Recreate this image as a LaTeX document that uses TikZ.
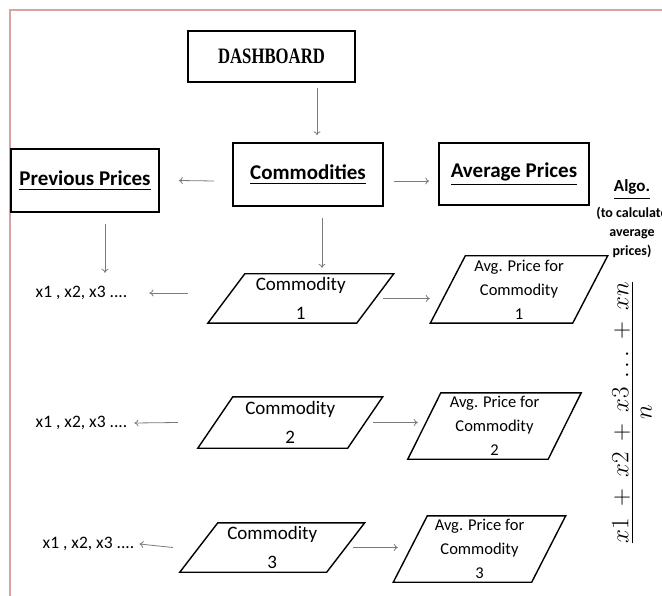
\documentclass[tikz,border=0pt]{standalone}
\usepackage{fontspec}
\setmainfont{Carlito}
\newfontfamily\dashfont{Liberation Serif}
\usetikzlibrary{arrows.meta,calc}
\definecolor{framec}{HTML}{D9A3A3}
\definecolor{arrc}{HTML}{7A7A7A}
\newcommand\myul[1]{\setbox0=\hbox{#1}\vtop{\copy0\kern3.5pt\hrule height 1.1pt width \wd0}}
\tikzset{
  box/.style={draw=black, line width=1.6pt, inner sep=0pt},
  ptext/.style={inner sep=0pt, align=center},
  pline/.style={draw=black, line width=1.4pt, line join=miter},
  arr/.style={draw=arrc, line width=0.8pt, -{To[length=4pt,width=7pt]}},
  plain/.style={inner sep=0pt},
  cfont/.style={font=\fontsize{19}{29}\selectfont},
  afont/.style={font=\fontsize{16.5}{24}\selectfont},
  hfont/.style={font=\bfseries\fontsize{21}{24}\selectfont},
  xfont/.style={font=\fontsize{17.5}{20}\selectfont},
}
\newcommand\paral[8]{%
  \node[ptext, #8, minimum width=#4pt, minimum height=#5pt] (#1) at (#2,#3) {#7};
  \draw[pline] ([xshift=#6pt]#1.north west) -- ([xshift=#6pt]#1.north east)
    -- ([xshift=-#6pt]#1.south east) -- ([xshift=-#6pt]#1.south west) -- cycle;}
\begin{document}
\begin{tikzpicture}[x=1pt,y=-1pt]
\useasboundingbox (0,0) rectangle (662,596);
\fill[white] (0,0) rectangle (662,596);
\draw[framec, line width=1.2pt] (662,10) -- (10,10) -- (10,596);

% top boxes
\node[box, minimum width=167pt, minimum height=51pt] (dash) at (271.5,56.5)
  {\raisebox{-3pt}{\scalebox{0.76}[1]{\dashfont\bfseries\fontsize{22}{24}\selectfont DASHBOARD}}};
\node[box, hfont, minimum width=150pt, minimum height=63pt] (comm) at (308,174.5) {\raisebox{-2pt}{\myul{Commodities}}};
\node[box, hfont, minimum width=148pt, minimum height=63pt] (prev) at (85,180.5) {\raisebox{-4pt}{\myul{Previous Prices}}};
\node[box, hfont, minimum width=150pt, minimum height=62pt] (avgp) at (514,174) {\raisebox{-4pt}{\myul{Average Prices}}};

% parallelograms
\paral{c1}{300.75}{298.5}{148.5}{49}{18.5}{Commodity\\1}{cfont}
\paral{c2}{290.25}{422.5}{149.5}{51}{17.5}{Commodity\\2}{cfont}
\paral{c3}{272.25}{547.5}{146.5}{49}{19}{Commodity\\3}{cfont}
\paral{a1}{519}{289.5}{142}{67}{17.5}{Avg. Price for\\Commodity\\1}{afont}
\paral{a2}{494.5}{426}{140}{66}{16.5}{Avg. Price for\\Commodity\\2}{afont}
\paral{a3}{479.5}{549}{138}{66}{17}{Avg. Price for\\Commodity\\3}{afont}

% x lists
\node[plain, xfont] (x1) at (81.5,293) {x1 , x2, x3 ....};
\node[plain, xfont] (x2) at (81.5,423) {x1 , x2, x3 ....};
\node[plain, xfont] (x3) at (88.5,544) {x1 , x2, x3 ....};

% algo
\node[plain, font=\bfseries\fontsize{17}{20}\selectfont] (algo) at (632,189) {\myul{Algo.}};
\node[plain, align=center, font=\bfseries\fontsize{14}{19}\selectfont] (algotxt) at (632,232) {(to calculate\\average\\prices)};
\node[plain, rotate=90, font=\fontsize{28}{30}\selectfont] (formula) at (632,412.5)
  {$\medmuskip=8mu\textstyle\frac{\displaystyle x1 + x2 + x3\,\ldots + xn}{\displaystyle \rule{0pt}{19pt}n}$};

% connectors
\draw[arr] ([xshift=45.5pt,yshift=-5pt]dash.south) -- ([xshift=9pt,yshift=7pt]comm.north);
\draw[arr] ([xshift=-18pt,yshift=-6.5pt]comm.west) -- ([xshift=19pt]prev.east);
\draw[arr] ([xshift=10pt,yshift=-6.5pt]comm.east) -- ([xshift=-9pt,yshift=-7pt]avgp.west);
\draw[arr] ([xshift=14pt,yshift=-11pt]comm.south) -- ([xshift=14pt,yshift=-61pt]comm.south);
\draw[arr] ([xshift=20pt,yshift=-11pt]prev.south) -- ([xshift=20pt,yshift=-60pt]prev.south);
\draw[arr] ([xshift=-38.5pt,yshift=5.5pt]c1.west) -- ([xshift=22pt]x1.east);
\draw[arr] ([xshift=8pt]c1.east) -- ([xshift=-18pt]a1.west |- c1.east);
\draw[arr] ([xshift=-37.5pt]c2.west) -- ([xshift=7pt]x2.east);
\draw[arr] ([xshift=8pt]c2.east) -- ([xshift=-6.5pt]a2.west |- c2.east);
\draw[arr] ([xshift=-26pt]c3.west) -- ([xshift=5pt]x3.east);
\draw[arr] ([xshift=7.5pt]c3.east) -- ([xshift=-12.5pt]a3.west |- c3.east);
\end{tikzpicture}
\end{document}
